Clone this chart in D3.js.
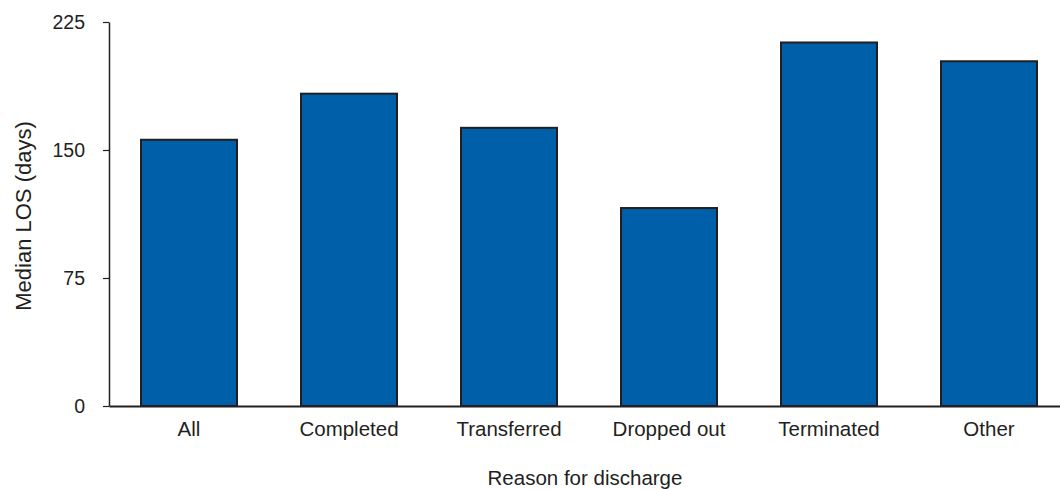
<!DOCTYPE html>
<html><head><meta charset="utf-8">
<script src="https://cdn.jsdelivr.net/npm/d3@7"></script>
<style>body{margin:0;background:#fff}text{font-family:"Liberation Sans",Arial,sans-serif;fill:#231f20}</style>
</head><body><svg id="c" width="1060" height="489"></svg>
<script>
const categories = ["All","Completed","Transferred","Dropped out","Terminated","Other"];
const values = [156, 183, 163, 116, 213, 202];
const yTicks = [0, 75, 150, 225];

const svg = d3.select("#c");
const x0 = 109, yBottom = 406, yTop = 22;
const x = d3.scaleBand().domain(categories).range([x0, x0 + 960]).paddingInner(0.4).paddingOuter(0.2);
const y = d3.scaleLinear().domain([0, 225]).range([yBottom, yTop]);

svg.selectAll("rect.bar").data(values).join("rect")
  .attr("class","bar")
  .attr("x",(d,i)=>x(categories[i]))
  .attr("y",d=>y(d))
  .attr("width",x.bandwidth())
  .attr("height",d=>yBottom - y(d))
  .attr("fill","#005fa9")
  .attr("stroke","#231f20")
  .attr("stroke-width",2);

const yAxis = svg.append("g").attr("transform",`translate(${x0},0)`)
  .call(d3.axisLeft(y).tickValues(yTicks).tickSize(6).tickPadding(18).tickSizeOuter(0));
yAxis.select(".domain").attr("stroke","#231f20").attr("stroke-width",1.5);
yAxis.selectAll(".tick line").attr("stroke","#231f20").attr("stroke-width",1.2);
yAxis.selectAll("text").style("font-size","19.5px").attr("fill","#231f20");

const xAxis = svg.append("g").attr("transform",`translate(0,${yBottom})`)
  .call(d3.axisBottom(x).tickSize(0).tickPadding(15).tickSizeOuter(0));
xAxis.select(".domain").attr("stroke","#231f20").attr("stroke-width",2);
xAxis.selectAll("text").style("font-size","20.5px").attr("fill","#231f20");

svg.append("text").attr("x",585).attr("y",485).attr("text-anchor","middle")
  .style("font-size","20.5px").text("Reason for discharge");
svg.append("text").attr("transform","translate(31,216) rotate(-90)").attr("text-anchor","middle")
  .style("font-size","22px").text("Median LOS (days)");
</script></body></html>
